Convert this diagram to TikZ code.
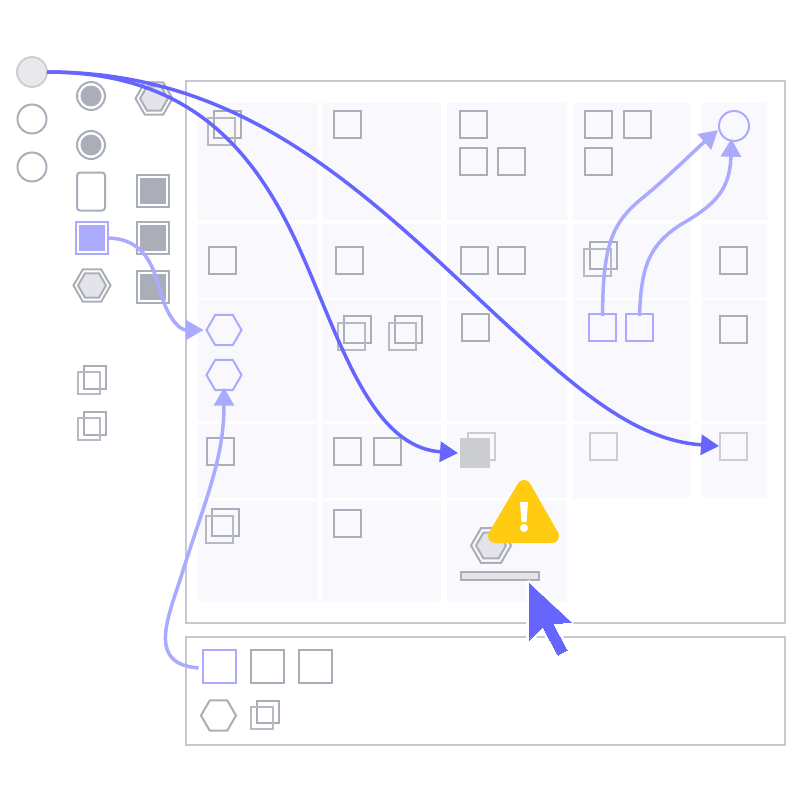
\documentclass[tikz,border=0pt]{standalone}
\usepackage[HTML]{xcolor}
\usetikzlibrary{positioning, arrows.meta, shapes.geometric}
\definecolor{itemgray}{HTML}{A9AEB8}
\definecolor{fadegray}{HTML}{CBCDD0}
\definecolor{framegray}{HTML}{C6C8D4}
\definecolor{cellfill}{HTML}{F9F9FD}
\definecolor{hexfill}{HTML}{E3E3E9}
\definecolor{flowdark}{HTML}{6666FF}
\definecolor{flowlight}{HTML}{AAAAFF}
\definecolor{warnyellow}{HTML}{FFCC11}

\begin{document}
\begin{tikzpicture}[x=1pt,y=-1pt,
  box/.style={draw=itemgray,line width=2pt,rectangle,inner sep=0pt,outer sep=0pt,minimum size=27pt},
  smallbox/.style={box,minimum size=22.5pt},
  bigbox/.style={box,minimum size=32pt},
  solidbox/.style={rectangle,fill=itemgray,inner sep=0pt,outer sep=0pt,minimum size=26pt},
  hex/.style={draw=itemgray,line width=2pt,regular polygon,regular polygon sides=6,inner sep=0pt,outer sep=0pt,minimum size=35pt},
  ring/.style={draw=itemgray,line width=2pt,circle,inner sep=0pt,outer sep=0pt,minimum size=28pt},
  flowbox/.style={box,draw=flowlight},
  flowhex/.style={hex,draw=flowlight},
  darkflow/.style={draw=flowdark,line width=3.5pt,-{Triangle[length=18pt,width=20pt]}},
  lightflow/.style={draw=flowlight,line width=3.5pt,-{Triangle[length=18pt,width=20pt]}}]
\useasboundingbox (0,0) rectangle (800,800);
\fill[white] (0,0) rectangle (800,800);

% panels
\draw[framegray,line width=1.3pt] (186,81) rectangle (785,623);
\draw[framegray,line width=1.3pt] (186,637) rectangle (785,745);

% grid cells
\foreach \xa/\xb in {198/318,322/441,447/567,573/690,702/767}
  \foreach \ya/\yb in {103/220,224/298,300/421,424/498}
    \fill[cellfill] (\xa,\ya) rectangle (\xb,\yb);
\foreach \xa/\xb in {198/318,322/441,447/567}
  \fill[cellfill] (\xa,501) rectangle (\xb,602);

% palette
\node[circle,draw=fadegray,fill=hexfill!80!white,line width=1.8pt,inner sep=0pt,outer sep=0pt,minimum size=30pt] (source) at (32,72) {};
\node[ring,minimum size=29pt] (roundA) at (32,119) {};
\node[ring,minimum size=29pt] (roundB) at (32,167) {};
\foreach \name/\y in {dotA/96,dotB/145} {
  \node[ring] (\name) at (91,\y) {};
  \node[circle,fill=itemgray,inner sep=0pt,minimum size=21pt] (\name in) at (91,\y) {};
}
\node[draw=itemgray,line width=2pt,rounded corners=3pt,inner sep=0pt,outer sep=0pt,minimum width=28pt,minimum height=38pt] (card) at (91,191.5) {};
\foreach \name/\y in {fullA/191,fullB/238,fullC/287} {
  \node[bigbox] (\name) at (152.5,\y) {};
  \node[solidbox] (\name in) at (152.5,\y) {};
}
\node[flowbox,minimum size=32pt] (pick) at (92,238) {};
\node[solidbox,fill=flowlight] (pick in) at (92,238) {};
\foreach \name/\x/\y in {hexA/154/98.5,hexB/92/285.5} {
  \node[hex,minimum size=37pt] (\name) at (\x,\y) {};
  \node[hex,fill=hexfill,minimum size=28pt] (\name in) at (\x,\y) {};
}
\foreach \name/\y in {pairA/380,pairB/426} {
  \node[smallbox] (\name back) at (95,\y-2.5) {};
  \node[smallbox,draw=itemgray!85] (\name front) at (89,\y+3) {};
}

% single items in the grid
\foreach \name/\x/\y in {
  itemA/347.5/124,itemB/473.5/124,itemC/473.5/161,itemD/511/161,itemE/598.5/124,itemF/637.5/124,itemG/598.5/161,
  itemH/222/260,itemI/349.5/260,itemJ/474/260,itemK/511.5/260,itemL/733.5/260,
  itemM/475.5/327.5,itemN/733.5/329,
  itemO/220.5/451.5,itemP/347.5/451.5,itemQ/387.5/451.5,itemR/347.5/523.5}
  \node[box] (\name) at (\x,\y) {};
\foreach \name/\x/\y in {fadeA/603.5/446,fadeB/733.5/446}
  \node[box,draw=fadegray] (\name) at (\x,\y) {};

% overlapping items in the grid
\foreach \name/\x/\y in {
  stackA/221/131,stackB/351/336.5,stackC/402/336.5,stackD/597/262,stackE/219/529}{
  \node[box] (\name back) at (\x+6.5,\y-7) {};
  \node[box,draw=itemgray!85] (\name front) at (\x,\y) {};
}
\node[box,draw=fadegray] (ghost) at (481,446) {};
\node[solidbox,fill=fadegray,minimum size=30pt] (goalA) at (475,453) {};

% flow targets
\node[flowhex] (hexC) at (224,330) {};
\node[flowhex] (hexD) at (224,375) {};
\node[flowbox] (flowA) at (602.5,327.5) {};
\node[flowbox] (flowB) at (639.5,327.5) {};
\node[circle,draw=flowlight,line width=2pt,inner sep=0pt,outer sep=0pt,minimum size=30pt] (goalB) at (734,126) {};

% item with warning
\node[hex,minimum size=40pt] (hexE) at (491,545.5) {};
\node[hex,fill=hexfill,minimum size=30pt] (hexE in) at (491,545.5) {};
\node[draw=itemgray,fill=hexfill,line width=2.5pt,inner sep=0pt,outer sep=0pt,minimum width=78pt,minimum height=8pt] (bar) at (500,576) {};

% bottom panel
\node[flowbox,minimum size=33pt] (slotA) at (219,666) {};
\node[box,minimum size=33pt] (slotB) at (267,666) {};
\node[box,minimum size=33pt] (slotC) at (315,666) {};
\node[hex] (slotD) at (218.5,715.5) {};
\node[smallbox] (slotE back) at (268,712) {};
\node[smallbox,draw=itemgray!85] (slotE front) at (262,718) {};

% connectors
\draw[darkflow] (source.east) .. controls (190,72) and (255,150) .. (300,250)
  .. controls (340,339) and (370,447) .. ([xshift=-2pt]goalA.west);
\draw[darkflow] (source.east) .. controls (230,72) and (345,172) .. (480,300)
  .. controls (568,382) and (630,440) .. ([xshift=-1pt]fadeB.west);
\draw[lightflow] (pick.east) .. controls (150,239) and (155,275) .. (163,300)
  .. controls (170,320) and (180,330) .. ([xshift=-3pt]hexC.west);
\draw[lightflow] ([xshift=-4pt,yshift=-2pt]slotA.west) .. controls (150,664) and (165,625) .. (180,580)
  .. controls (205,500) and (224,460) .. ([yshift=2.5pt]hexD.south);
\draw[lightflow] ([yshift=-2pt]flowA.north) .. controls (603,250) and (610,225) .. (640,200)
  .. controls (665,180) and (695,150) .. ([xshift=-2pt,yshift=1pt]goalB.200);
\draw[lightflow] ([yshift=-2pt]flowB.north) .. controls (641,265) and (650,245) .. (680,225)
  .. controls (715,205) and (730,190) .. ([yshift=2pt]goalB.260);

% warning sign
\draw[warnyellow,fill=warnyellow,line width=14pt,line join=round] (524,487) -- (552,536) -- (495,536) -- cycle;
\fill[white] (520,502) -- (528,502) -- (526.5,522) -- (521.5,522) -- cycle;
\fill[white] (524,528) circle (4pt);

% cursor
\draw[flowdark,fill=flowdark,line width=0pt,preaction={draw=white,line width=6pt,line join=round}]
  (529,583) -- (571,622) -- (553,624) -- (567,650) -- (558,655) -- (543,627) -- (529,640) -- cycle;
\end{tikzpicture}
\end{document}
